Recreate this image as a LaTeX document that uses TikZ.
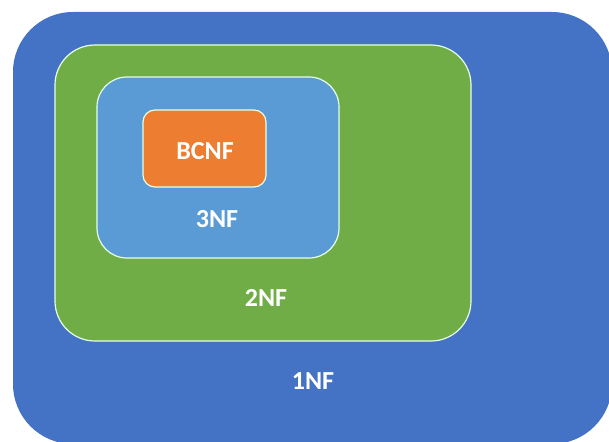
\documentclass[tikz,border=0pt]{standalone}
\usepackage{fontspec}
\setmainfont{Carlito}
\definecolor{nfone}{HTML}{4472C4}
\definecolor{nftwo}{HTML}{70AD47}
\definecolor{nfthree}{HTML}{5B9BD5}
\definecolor{nfbc}{HTML}{ED7D31}
\tikzset{
  nfbox/.style={draw=white!90!green, line width=1.2pt},
  nflabel/.style={text=white, font=\bfseries\fontsize{26}{30}\selectfont}
}
\begin{document}
\begin{tikzpicture}[x=1pt, y=-1pt]
  \useasboundingbox (0,0) rectangle (609,441);
  \clip (0,0) rectangle (609,441);

  % Nested normal forms
  \fill[nfone, rounded corners=60pt] (13,12) rectangle (612,444);
  \filldraw[nfbox, fill=nftwo, rounded corners=40pt] (55,45) rectangle (471,341);
  \filldraw[nfbox, fill=nfthree, rounded corners=30pt] (97,77) rectangle (339,258);
  \filldraw[nfbox, fill=nfbc, rounded corners=12pt] (143,110) rectangle (266,187);

  % Labels
  \node[nflabel] (bcnf) at (205,151) {BCNF};
  \node[nflabel] (third) at (217,219) {3NF};
  \node[nflabel] (second) at (266,298) {2NF};
  \node[nflabel] (first) at (313,381) {1NF};
\end{tikzpicture}
\end{document}
